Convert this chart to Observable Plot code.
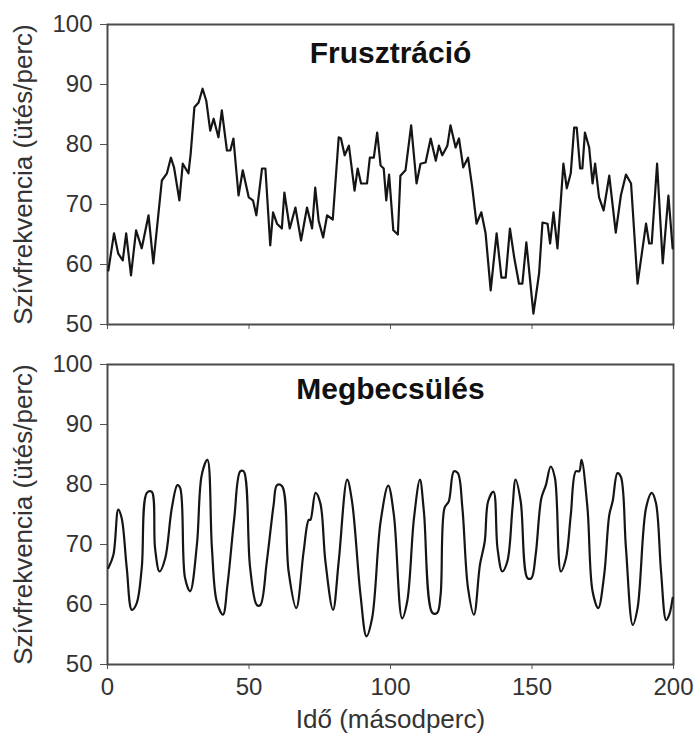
<!DOCTYPE html>
<html>
<head>
<meta charset="utf-8">
<script src="https://cdn.jsdelivr.net/npm/d3@7"></script>
<script src="https://cdn.jsdelivr.net/npm/@observablehq/plot@0.6"></script>
<style>
  html, body { margin: 0; padding: 0; background: #fff; }
  #chart { width: 694px; height: 736px; background: #fff; }
  #chart svg { display: block; }
</style>
</head>
<body>
<div id="chart"></div>
<script>
// ---- Data ----
const topTitle = "Frusztráció";
const bottomTitle = "Megbecsülés";
const yLabel = "Szívfrekvencia (ütés/perc)";
const xLabel = "Idő (másodperc)";
const xTicks = [0, 50, 100, 150, 200];
const yTicks = [50, 60, 70, 80, 90, 100];

const frTime = [0.3,2.3,3.8,5.4,6.6,8.3,10.1,12.1,14.5,16.2,19.2,21,22.4,23.5,25.4,26.6,28.6,29.4,30.7,32.2,33.6,34.9,36.3,37.5,39.2,40.4,42.2,43.4,44.5,46.3,47.8,49.9,51.4,52.6,54.6,55.8,57.5,58.5,59.9,61.6,62.5,64.4,66.4,68.4,70.5,72.3,73.4,74.6,76.2,77.6,79.6,81.7,82.5,83.8,85.3,87.3,88.4,89.6,91.7,92.7,94.1,95.3,96.5,97.6,98.5,99.5,101,102.6,103.5,105.3,107.3,109.2,110.6,112.4,114.2,116,117.1,118.3,120.1,121.2,123,124.2,125.7,127.4,128.9,130.4,132.1,133.6,135.4,137.5,139.2,140.7,142.2,143.7,145.4,146.6,148,150.5,152.5,153.7,155.5,156.4,157.6,159,161.1,162.3,163.7,164.9,165.8,167,167.8,168.7,170.2,171.4,172.3,173.7,175.3,177.3,179.6,181.4,183.2,185,187.3,190.3,191.4,192.3,194.2,196.2,198.2,199.7];
const frHR = [59,65.2,61.8,60.7,65.2,58.2,65.7,62.7,68.2,60.2,74,75.2,77.8,76.2,70.7,76.8,75.2,78.5,86.2,87,89.3,87.3,82.3,84.3,81.2,85.7,79,79,81,71.5,75.7,71.2,70.7,68.2,76,76,63.2,68.7,66.8,66,72,66,69.5,64,69.5,66,72.8,67.3,64.5,68.2,67.5,81.2,81,78.2,79.8,72.3,76,73.5,73.5,77.8,77.8,82,76.5,76,70.7,75,65.7,65,74.8,75.7,83.2,73.5,76.8,77,81,77.3,79.8,78.2,79.8,83.2,79.5,81,76.2,77.8,72.8,66.8,68.7,65.2,55.7,65.2,57.8,57.8,66,61.2,56.8,56.8,63.7,51.8,58.5,67,66.8,63.5,68.7,62.7,76.8,72.7,75.2,82.8,82.8,76,76,82,79.5,73.5,76.8,71.2,69,74.8,65.3,71.5,75,73.5,56.8,66.8,63.5,63.5,76.8,60.2,71.5,62.7];

const mgTime = [0.3,2.1,3.8,5,6.8,8.6,10.3,12.1,13.9,15.6,16.8,18.4,20.4,22.7,24.7,25.7,27.4,29.2,31.6,33.3,35.3,36.9,38.6,40.8,42.4,44.8,46.9,48.1,50.4,52.8,54,56.3,58.7,59.9,61.7,64,66.7,69.3,71.1,71.7,73.5,75.2,77,79.7,81.7,84.7,86.4,89.4,91.5,93.5,96.5,99.2,101.2,104.1,105.9,108.3,110.4,111.8,114.8,116.5,117.7,119.1,120.6,122.4,123.8,125.4,127.4,129.5,131.6,133.3,134.5,136.4,137.8,139.5,141.3,143.1,144.2,146,148.4,149.8,151.3,153.3,154.9,156.6,158.1,160.2,162,163.7,165.5,166.7,167.5,169.6,171.4,173.4,175.5,177.3,178.5,180.2,181.4,183.2,185.6,187.3,190.3,192.3,193.8,195.6,197.4,198.5,199.7];
const mgHR = [66.1,68.3,75.8,74.4,66.1,59.1,60.2,66.1,78.6,78.8,69.4,65.5,67.7,76,79.9,79.4,64.4,62.2,70,81.6,84.1,69.4,60.5,58.3,63.3,74.4,82.2,82.2,66.1,59.9,59.9,67.2,76.6,79.9,79.7,65.5,59.4,68.8,74.1,74.1,78.6,76.9,67.2,59.1,67.2,80.8,77.2,61.6,54.7,57.7,73.8,79.8,74.9,57.7,60.5,74.4,80.8,75.5,58.6,58.6,61.6,76.1,77.2,82.2,81.9,76.1,62.7,58.3,66.6,70.5,77.2,78.8,69.4,65.5,67.2,76.1,80.8,77.2,64.4,64.4,68.3,77.7,79.9,83,81.1,65.5,67.7,74.9,82.2,82.2,84.1,76.1,62.2,59.4,64.9,74.9,77.2,81.9,81.3,69.4,56.6,59.4,76.1,78.6,76.9,65.5,57.4,58.3,61.1];

const frData = frTime.map((t, i) => ({t, hr: frHR[i]}));
const mgData = mgTime.map((t, i) => ({t, hr: mgHR[i]}));

const FONT = "'Liberation Sans', Arial, Helvetica, sans-serif";

function panel(data, title, opts) {
  return Plot.plot({
    width: 694,
    height: opts.height,
    marginLeft: 107,
    marginRight: 21,
    marginTop: opts.marginTop,
    marginBottom: opts.marginBottom,
    style: {fontFamily: FONT, fontSize: "24px", color: "#333", background: "white", overflow: "visible"},
    x: {domain: [0, 200]},
    y: {domain: [50, 100]},
    marks: [
      Plot.axisY({ticks: yTicks, tickSize: 7, tickPadding: 8, label: null, fontSize: 24, fill: "#333", stroke: "#555"}),
      Plot.axisX({ticks: xTicks, tickSize: 5, tickPadding: 8, label: null, fontSize: 24, fill: "#333", stroke: "#555",
        tickFormat: opts.xLabels ? (d => String(d)) : (() => "")}),
      Plot.frame({stroke: "#4a4a4a", strokeWidth: 2}),
      Plot.line(data, {x: "t", y: "hr", stroke: "#151515", strokeWidth: 2.2, curve: opts.curve}),
      Plot.text([title], {text: d => d, frameAnchor: "top", dy: opts.titleDy, lineAnchor: "bottom",
        fontSize: 30, fontWeight: "bold", fill: "#111"}),
      Plot.text([yLabel], {text: d => d, frameAnchor: "left", dx: -84, rotate: -90, lineAnchor: "middle",
        textAnchor: "middle", fontSize: 26, fill: "#333"}),
      ...(opts.xLabels ? [Plot.text([xLabel], {text: d => d, frameAnchor: "bottom", dy: 63, lineAnchor: "bottom",
        fontSize: 26, fill: "#333"})] : [])
    ]
  });
}

const chart = document.getElementById("chart");
chart.appendChild(panel(frData, topTitle, {height: 344, marginTop: 24, marginBottom: 20, xLabels: false, titleDy: 38, curve: "linear"}));
chart.appendChild(panel(mgData, bottomTitle, {height: 392, marginTop: 20, marginBottom: 72, xLabels: true, titleDy: 34, curve: "catmull-rom"}));
</script>
</body>
</html>
